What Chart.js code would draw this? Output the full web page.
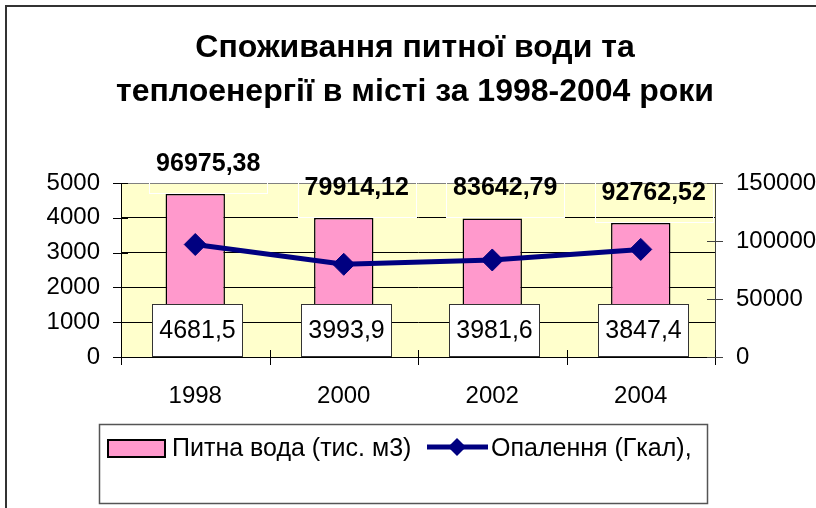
<!DOCTYPE html>
<html>
<head>
<meta charset="utf-8">
<script src="https://cdn.jsdelivr.net/npm/chart.js@4.4.1/dist/chart.umd.min.js"></script>
<style>
  html, body { margin: 0; padding: 0; background: #fff; overflow: hidden; }
  #wrap { position: relative; width: 816px; height: 508px; }
</style>
</head>
<body>
<div id="wrap"><canvas id="chart" width="816" height="508"></canvas></div>
<script>
// Chart data
const years = ['1998', '2000', '2002', '2004'];
const waterValues = [4681.5, 3993.9, 3981.6, 3847.4];
const heatValues = [96975.38, 79914.12, 83642.79, 92762.52];
const titleLines = ['Споживання питної води та', 'теплоенергії в місті за 1998-2004 роки'];
const seriesNames = ['Питна вода (тис. м3)', 'Опалення (Гкал),'];

const FONT = "'Liberation Sans', Arial, sans-serif";
const PINK = '#FF99CC';
const NAVY = '#000080';

function fmt(v, digits) {
  return v.toFixed(digits).replace('.', ',');
}

// Yellow plot area + outer frame
const plotBackground = {
  id: 'plotBackground',
  beforeDraw(chart) {
    const { ctx, chartArea: a } = chart;
    ctx.save();
    ctx.fillStyle = '#FFFFCC';
    ctx.fillRect(a.left, a.top, a.right - a.left, a.bottom - a.top);
    // outer chart frame (right and bottom edges are off the picture)
    ctx.strokeStyle = '#333';
    ctx.lineWidth = 2;
    ctx.beginPath();
    ctx.moveTo(6, chart.height);
    ctx.lineTo(6, 6);
    ctx.lineTo(chart.width, 6);
    ctx.stroke();
    ctx.restore();
  }
};

// Excel-style tick marks that cross the axis lines
const crossTicks = {
  id: 'crossTicks',
  afterDraw(chart) {
    const { ctx, scales: { x, y, y1 } } = chart;
    ctx.save();
    ctx.lineWidth = 1;
    ctx.strokeStyle = '#000';
    ctx.beginPath();
    y.ticks.forEach((t, i) => {
      const py = Math.round(y.getPixelForTick(i)) + 0.5;
      ctx.moveTo(y.right - 8, py);
      ctx.lineTo(y.right + 7, py);
    });
    for (let i = 0; i <= years.length; i++) {
      const px = Math.round(x.getPixelForValue(i - 0.5)) + 0.5;
      ctx.moveTo(px, x.top - 7);
      ctx.lineTo(px, x.top + 8);
    }
    ctx.stroke();
    ctx.strokeStyle = '#404040';
    ctx.beginPath();
    y1.ticks.forEach((t, i) => {
      const py = Math.round(y1.getPixelForTick(i)) + 0.5;
      ctx.moveTo(y1.left - 8, py);
      ctx.lineTo(y1.left + 8, py);
    });
    ctx.stroke();
    ctx.restore();
  }
};

// Value labels: boxed at the bar base, bold above the bars for the line
const valueLabels = {
  id: 'valueLabels',
  afterDatasetsDraw(chart) {
    const { ctx, chartArea: a } = chart;
    const bars = chart.getDatasetMeta(0).data;
    ctx.save();
    ctx.textAlign = 'center';
    ctx.textBaseline = 'middle';

    // bar labels
    ctx.font = `25px ${FONT}`;
    bars.forEach((bar, i) => {
      const w = 90, h = 52;
      const bx = Math.round(bar.x + 2 - w / 2) + 0.5;
      const by = Math.round(a.bottom - 1 - h) + 0.5;
      ctx.fillStyle = '#fff';
      ctx.fillRect(bx, by, w, h);
      ctx.strokeStyle = '#333';
      ctx.lineWidth = 1;
      ctx.strokeRect(bx, by, w, h);
      ctx.fillStyle = '#000';
      ctx.fillText(fmt(waterValues[i], 1), bx + w / 2, by + h / 2 + 1);
    });

    // line labels, placed above the bar tops
    ctx.font = `bold 25px ${FONT}`;
    bars.forEach((bar, i) => {
      const w = 118, h = 60;
      let cx = bar.x + 13;
      if (cx + w / 2 > a.right) cx = a.right - w / 2;
      const cy = bar.y - 31;
      ctx.strokeStyle = '#fff';
      ctx.lineWidth = 1;
      ctx.strokeRect(Math.round(cx - w / 2) + 0.5, Math.round(cy - h / 2) + 0.5, w, h);
      ctx.fillStyle = '#000';
      ctx.fillText(fmt(heatValues[i], 2), cx, cy + 1);
    });
    ctx.restore();
  }
};

// Boxed legend in the Excel manner
const boxLegend = {
  id: 'boxLegend',
  afterDraw(chart) {
    const { ctx } = chart;
    const bar = chart.data.datasets[0];
    const line = chart.data.datasets[1];
    ctx.save();
    ctx.strokeStyle = '#555';
    ctx.lineWidth = 1.5;
    ctx.strokeRect(99.5, 424.5, 608, 79);

    // bar swatch
    ctx.fillStyle = bar.backgroundColor;
    ctx.fillRect(108, 440, 57, 17);
    ctx.strokeStyle = '#000';
    ctx.lineWidth = 2;
    ctx.strokeRect(108, 440, 57, 17);

    ctx.font = `25px ${FONT}`;
    ctx.fillStyle = '#000';
    ctx.textAlign = 'left';
    ctx.textBaseline = 'alphabetic';
    ctx.fillText(bar.label, 172, 456);

    // line swatch with diamond
    ctx.strokeStyle = line.borderColor;
    ctx.lineWidth = 5;
    ctx.beginPath();
    ctx.moveTo(427, 447);
    ctx.lineTo(488, 447);
    ctx.stroke();
    ctx.fillStyle = line.pointBackgroundColor;
    ctx.beginPath();
    ctx.moveTo(457, 438);
    ctx.lineTo(466, 447);
    ctx.lineTo(457, 456);
    ctx.lineTo(448, 447);
    ctx.closePath();
    ctx.fill();

    ctx.fillStyle = '#000';
    ctx.fillText(line.label, 491, 456);
    ctx.restore();
  }
};

const plainTick = (v) => String(v);

const config = {
  type: 'bar',
  data: {
    labels: years,
    datasets: [
      {
        type: 'bar',
        label: seriesNames[0],
        data: waterValues,
        yAxisID: 'y',
        backgroundColor: PINK,
        borderColor: '#000',
        borderWidth: 1.5,
        borderSkipped: false,
        barPercentage: 0.4,
        categoryPercentage: 1,
        order: 1
      },
      {
        type: 'line',
        label: seriesNames[1],
        data: heatValues,
        yAxisID: 'y1',
        borderColor: NAVY,
        borderWidth: 5,
        backgroundColor: NAVY,
        pointBackgroundColor: NAVY,
        pointBorderColor: NAVY,
        pointStyle: 'rectRot',
        pointRadius: 11,
        pointBorderWidth: 1,
        tension: 0,
        order: 0
      }
    ]
  },
  options: {
    responsive: false,
    animation: false,
    devicePixelRatio: 1,
    layout: { padding: { left: 14, right: 0, top: 0, bottom: 0 } },
    plugins: {
      legend: { display: false },
      tooltip: { enabled: false },
      title: {
        display: true,
        text: titleLines,
        color: '#000',
        font: { family: FONT, size: 32, weight: 'bold', lineHeight: 1.375 },
        padding: { top: 26, bottom: 69 }
      }
    },
    scales: {
      x: {
        grid: { display: false, drawTicks: false },
        border: { display: true, color: '#000', width: 1 },
        ticks: { color: '#000', font: { family: FONT, size: 24 }, padding: 25, maxRotation: 0 },
        afterFit(scale) { scale.height = 151; }
      },
      y: {
        position: 'left',
        min: 0,
        max: 5000,
        ticks: { stepSize: 1000, color: '#000', font: { family: FONT, size: 24 }, padding: 21, callback: plainTick },
        grid: {
          drawTicks: false,
          color: (c) => (c.index === c.scale.ticks.length - 1 ? '#808080' : '#000')
        },
        border: { display: true, color: '#000', width: 1 },
        afterFit(scale) { scale.width = 107; }
      },
      y1: {
        position: 'right',
        min: 0,
        max: 150000,
        ticks: { stepSize: 50000, color: '#000', font: { family: FONT, size: 24 }, padding: 21, callback: plainTick },
        grid: { display: false, drawTicks: false },
        border: { display: true, color: '#404040', width: 1 },
        afterFit(scale) { scale.width = 101; }
      }
    }
  },
  plugins: [plotBackground, valueLabels, crossTicks, boxLegend]
};

new Chart(document.getElementById('chart').getContext('2d'), config);
</script>
</body>
</html>
